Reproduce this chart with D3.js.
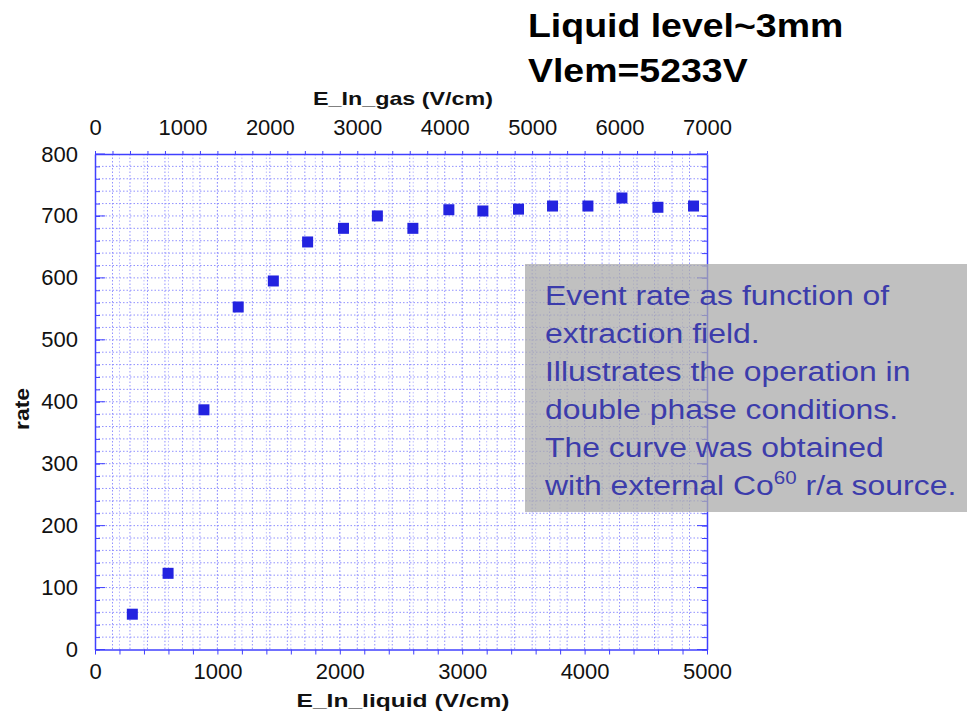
<!DOCTYPE html>
<html>
<head>
<meta charset="utf-8">
<script src="https://cdn.jsdelivr.net/npm/d3@7"></script>
<style>
  html, body { margin: 0; padding: 0; background: #ffffff; }
  svg { display: block; }
  text { font-family: "Liberation Sans", Arial, Helvetica, sans-serif; }
</style>
</head>
<body>
<svg id="chart" width="967" height="715"></svg>
<script>
// Extraction field in liquid (V/cm) and measured event rate
const eLiquid = [305, 597, 890, 1170, 1457, 1737, 2030, 2307, 2597, 2891, 3169, 3460, 3738, 4027, 4305, 4599, 4890];
const rate    = [57, 123, 387, 553, 595, 658, 680, 700, 680, 710, 708, 711, 716, 716, 729, 714, 716];

const liquidTicks = [0, 1000, 2000, 3000, 4000, 5000];
const gasTicks    = [0, 1000, 2000, 3000, 4000, 5000, 6000, 7000];
const rateTicks   = [0, 100, 200, 300, 400, 500, 600, 700, 800];

const titleLines = ["Liquid level~3mm", "Vlem=5233V"];
const noteLines  = ["Event rate as function of", "extraction field.", "Illustrates the operation in",
                    "double phase conditions.", "The curve was obtained"];

const svg = d3.select("#chart");
const L = 95, R = 707, T = 154, B = 649.5;

const x    = d3.scaleLinear().domain([0, 5000]).range([L, R]);
const xGas = d3.scaleLinear().domain([0, 7000]).range([L, R]);
const y    = d3.scaleLinear().domain([0, 800]).range([B, T]);

const gridColor = "#9191ff";
const frameColor = "#4040ff";

// dotted grid: both x axes and the rate axis, at every minor division
const grid = svg.append("g");
grid.selectAll(".gv").data(d3.range(200, 7000, 200)).join("line")
  .attr("x1", d => xGas(d)).attr("x2", d => xGas(d))
  .attr("y1", T).attr("y2", B)
  .attr("stroke", gridColor).attr("stroke-width", 1).attr("stroke-dasharray", "1.5,2");
grid.selectAll(".gl").data(d3.range(200, 5000, 200)).join("line")
  .attr("x1", d => x(d)).attr("x2", d => x(d))
  .attr("y1", T).attr("y2", B)
  .attr("stroke", gridColor).attr("stroke-opacity", 0.6).attr("stroke-width", 1).attr("stroke-dasharray", "1.5,2");
grid.selectAll(".gh").data(d3.range(20, 800, 20)).join("line")
  .attr("x1", L).attr("x2", R)
  .attr("y1", d => y(d)).attr("y2", d => y(d))
  .attr("stroke", gridColor).attr("stroke-width", 1).attr("stroke-dasharray", "1.5,2");

// axes
const tickFont = "22px";
function styleAxis(g) {
  g.select(".domain").attr("stroke", frameColor).attr("stroke-width", 1.5);
  g.selectAll(".tick line").attr("stroke", frameColor);
  g.selectAll(".tick text").attr("fill", "#111").style("font-size", tickFont);
}

// bottom: liquid field, ticks outward
svg.append("g").attr("transform", `translate(0,${B})`)
  .call(d3.axisBottom(x).tickValues(d3.range(0, 5001, 200)).tickSizeInner(5).tickSizeOuter(0)
        .tickFormat(d => liquidTicks.includes(d) ? d : "").tickPadding(9))
  .call(styleAxis);

// top: gas field
svg.append("g").attr("transform", `translate(0,${T})`)
  .call(d3.axisTop(xGas).tickValues(d3.range(0, 7001, 200)).tickSizeInner(3).tickSizeOuter(0)
        .tickFormat(d => gasTicks.includes(d) ? d : "").tickPadding(16))
  .call(styleAxis);

// left: rate, ticks inward
svg.append("g").attr("transform", `translate(${L},0)`)
  .call(d3.axisLeft(y).tickValues(d3.range(0, 801, 20)).tickSizeInner(-5).tickSizeOuter(0)
        .tickFormat(d => rateTicks.includes(d) ? d : "").tickPadding(17))
  .call(styleAxis);
svg.append("g").attr("transform", `translate(${L},0)`)
  .selectAll("line").data(rateTicks).join("line")
  .attr("x1", 0).attr("x2", 10).attr("y1", d => y(d)).attr("y2", d => y(d))
  .attr("stroke", frameColor);

// right frame with inward ticks
svg.append("g").attr("transform", `translate(${R},0)`)
  .call(d3.axisRight(y).tickValues(d3.range(0, 801, 20)).tickSizeInner(-5).tickSizeOuter(0).tickFormat(""))
  .call(styleAxis);
svg.append("g").attr("transform", `translate(${R},0)`)
  .selectAll("line").data(rateTicks).join("line")
  .attr("x1", 0).attr("x2", -10).attr("y1", d => y(d)).attr("y2", d => y(d))
  .attr("stroke", frameColor);

// axis titles
svg.append("text").attr("x", 403).attr("y", 105).attr("text-anchor", "middle")
  .attr("textLength", 180).attr("lengthAdjust", "spacingAndGlyphs")
  .style("font-size", "19px").style("font-weight", "bold").attr("fill", "#111")
  .text("E_In_gas (V/cm)");
svg.append("text").attr("x", 403).attr("y", 707).attr("text-anchor", "middle")
  .attr("textLength", 213).attr("lengthAdjust", "spacingAndGlyphs")
  .style("font-size", "19px").style("font-weight", "bold").attr("fill", "#111")
  .text("E_In_liquid (V/cm)");
svg.append("text").attr("transform", "translate(29,409) rotate(-90)").attr("text-anchor", "middle")
  .attr("textLength", 42).attr("lengthAdjust", "spacingAndGlyphs")
  .style("font-size", "20px").style("font-weight", "bold").attr("fill", "#111")
  .text("rate");

// data markers
const s = 11;
svg.append("g").selectAll("rect").data(eLiquid).join("rect")
  .attr("x", (d) => x(d) - s / 2)
  .attr("y", (d, i) => y(rate[i]) - s / 2)
  .attr("width", s).attr("height", s)
  .attr("fill", "#2323e0");

// heading (slightly widened lettering)
svg.append("g").attr("transform", "translate(528,0) scale(1.135,1)")
  .selectAll("text").data(titleLines).join("text")
  .attr("x", 0).attr("y", (d, i) => 37 + i * 45)
  .style("font-size", "33px").style("font-weight", "bold").attr("fill", "#000")
  .text(d => d);

// note box
svg.append("rect").attr("x", 525).attr("y", 264).attr("width", 442).attr("height", 248)
  .attr("fill", "#ababab").attr("fill-opacity", 0.75);
const noteColor = "#3c3cab";
const note = svg.append("g").attr("transform", "translate(545,0) scale(1.14,1)");
note.selectAll("text").data(noteLines).join("text")
  .attr("x", 0).attr("y", (d, i) => 305 + i * 38)
  .style("font-size", "28px").attr("fill", noteColor)
  .text(d => d);
const last = note.append("text").attr("x", 0).attr("y", 305 + 5 * 38)
  .style("font-size", "28px").attr("fill", noteColor);
last.append("tspan").text("with external Co");
last.append("tspan").attr("dy", -11).style("font-size", "18px").text("60");
last.append("tspan").attr("dy", 11).text(" r/a source.");
</script>
</body>
</html>
